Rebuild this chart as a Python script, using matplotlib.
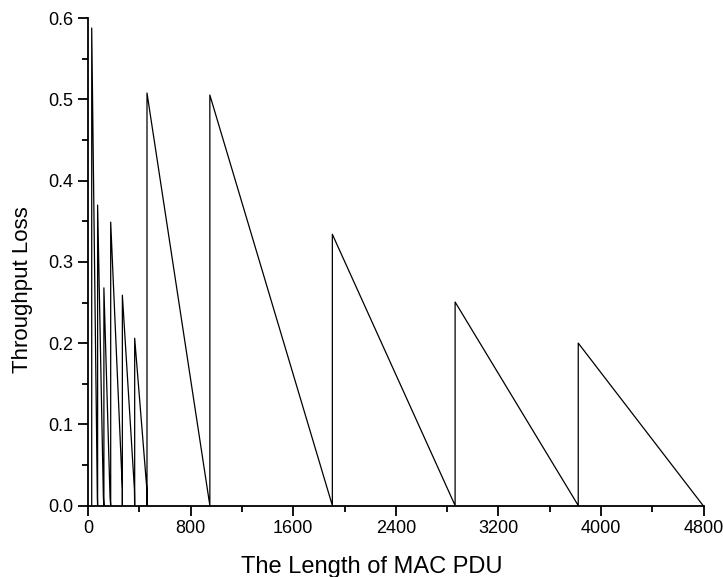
import matplotlib
matplotlib.use("Agg")
import matplotlib.pyplot as plt
from matplotlib.ticker import MultipleLocator, FormatStrFormatter


# vertices of the throughput-loss curve
PDU_LEN = [29, 29, 73, 75, 75, 120, 124, 124, 172, 177, 177, 268, 268, 268,
           362, 364, 364, 459, 460, 460, 950, 950, 1905, 1905, 2862, 2862,
           3822, 3822, 4795]
LOSS = [0.0, 0.588, 0.01, 0.0, 0.37, 0.01, 0.0, 0.268, 0.01, 0.0, 0.349, 0.02, 0.0, 0.259,
        0.02, 0.0, 0.206, 0.02, 0.0, 0.508, 0.0, 0.5055, 0.0, 0.334, 0.0, 0.2506,
        0.0, 0.200, 0.0]

X_TICKS = [0, 800, 1600, 2400, 3200, 4000, 4800]
Y_TICKS = [0.0, 0.1, 0.2, 0.3, 0.4, 0.5, 0.6]

plt.rcParams.update(
    {
        "font.family": ["Liberation Sans", "DejaVu Sans"],
        "font.size": 13,
        "axes.linewidth": 1.3,
    }
)


def style_axis(ax):
    ax.spines["top"].set_visible(False)
    ax.spines["right"].set_visible(False)
    ax.set_xlim(X_TICKS[0], X_TICKS[-1])
    ax.set_ylim(Y_TICKS[0], Y_TICKS[-1])
    ax.set_xticks(X_TICKS)
    ax.set_yticks(Y_TICKS)
    ax.xaxis.set_minor_locator(MultipleLocator(400))
    ax.yaxis.set_minor_locator(MultipleLocator(0.05))
    ax.yaxis.set_major_formatter(FormatStrFormatter("%.1f"))
    ax.tick_params(which="major", direction="out", length=7, width=1.3, labelsize=13)
    ax.tick_params(which="minor", direction="out", length=4.5, width=1.3)


def main():
    fig = plt.figure(figsize=(7.23, 5.77), dpi=100)
    ax = fig.add_axes([0.1217, 0.1239, 0.8516, 0.8444])
    ax.plot(PDU_LEN, LOSS, color="black", linewidth=0.9, clip_on=False)
    style_axis(ax)
    ax.set_xlabel("The Length of MAC PDU", fontsize=17)
    ax.set_ylabel("Throughput Loss", fontsize=16)
    ax.xaxis.set_label_coords(0.461, -0.104)
    ax.yaxis.set_label_coords(-0.089, 0.4425)
    fig.savefig("out.png", dpi=100)
    plt.close(fig)


if __name__ == "__main__":
    main()
